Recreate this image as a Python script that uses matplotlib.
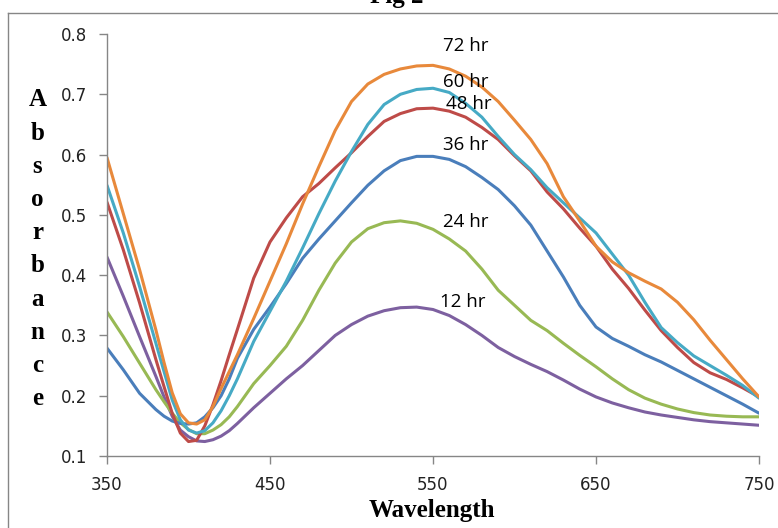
import numpy as np
import matplotlib
matplotlib.use("Agg")
import matplotlib.pyplot as plt
from matplotlib.lines import Line2D

# wavelength grid (nm) - finer around the absorption dip
wavelength = [350, 360, 370, 380, 385, 390, 395, 400, 405, 410, 415, 420, 425, 430,
              440, 450, 460, 470, 480, 490, 500, 510, 520, 530, 540, 550, 560, 570,
              580, 590, 600, 610, 620, 630, 640, 650, 660, 670, 680, 690, 700, 710,
              720, 730, 740, 750]

# absorbance, one list per incubation time
abs_12hr = [0.430, 0.365, 0.298, 0.232, 0.198, 0.166, 0.143, 0.132, 0.125, 0.124,
            0.127, 0.133, 0.142, 0.154,
            0.180, 0.204, 0.228, 0.250, 0.275, 0.300, 0.318, 0.332, 0.341, 0.346,
            0.347, 0.343, 0.333, 0.318, 0.300, 0.280, 0.265, 0.252, 0.240, 0.226,
            0.211, 0.198, 0.188, 0.180, 0.173, 0.168, 0.164, 0.160, 0.157, 0.155,
            0.153, 0.151]
abs_24hr = [0.339, 0.298, 0.254, 0.210, 0.190, 0.171, 0.155, 0.144, 0.137, 0.137,
            0.143, 0.152, 0.165, 0.182,
            0.220, 0.250, 0.282, 0.325, 0.375, 0.420, 0.455, 0.477, 0.487, 0.490,
            0.486, 0.476, 0.460, 0.440, 0.410, 0.375, 0.350, 0.325, 0.308, 0.287,
            0.267, 0.248, 0.228, 0.210, 0.196, 0.186, 0.178, 0.172, 0.168, 0.166,
            0.165, 0.165]
abs_36hr = [0.279, 0.243, 0.204, 0.177, 0.166, 0.158, 0.154, 0.153, 0.155, 0.165,
            0.180, 0.200, 0.228, 0.262,
            0.310, 0.347, 0.386, 0.428, 0.460, 0.490, 0.520, 0.549, 0.573, 0.590,
            0.597, 0.597, 0.592, 0.580, 0.562, 0.542, 0.515, 0.483, 0.440, 0.397,
            0.350, 0.314, 0.295, 0.282, 0.268, 0.256, 0.242, 0.228, 0.214, 0.200,
            0.186, 0.171]
abs_48hr = [0.521, 0.442, 0.354, 0.260, 0.215, 0.171, 0.138, 0.124, 0.126, 0.150,
            0.185, 0.225, 0.268, 0.310,
            0.395, 0.455, 0.495, 0.530, 0.552, 0.578, 0.603, 0.630, 0.655, 0.668,
            0.676, 0.677, 0.672, 0.662, 0.645, 0.625, 0.598, 0.573, 0.538, 0.510,
            0.478, 0.448, 0.410, 0.378, 0.342, 0.308, 0.280, 0.255, 0.238, 0.227,
            0.213, 0.198]
abs_60hr = [0.549, 0.470, 0.381, 0.287, 0.240, 0.193, 0.160, 0.143, 0.138, 0.142,
            0.155, 0.175, 0.200, 0.228,
            0.290, 0.340, 0.390, 0.445, 0.502, 0.556, 0.605, 0.650, 0.683, 0.700,
            0.708, 0.710, 0.703, 0.685, 0.662, 0.630, 0.600, 0.575, 0.545, 0.520,
            0.495, 0.470, 0.435, 0.400, 0.355, 0.313, 0.288, 0.266, 0.250, 0.234,
            0.217, 0.196]
abs_72hr = [0.595, 0.502, 0.409, 0.309, 0.255, 0.205, 0.170, 0.155, 0.153, 0.160,
            0.182, 0.212, 0.240, 0.268,
            0.328, 0.390, 0.452, 0.518, 0.580, 0.640, 0.688, 0.717, 0.733, 0.742,
            0.747, 0.748, 0.742, 0.730, 0.712, 0.688, 0.657, 0.625, 0.585, 0.530,
            0.490, 0.448, 0.422, 0.404, 0.390, 0.377, 0.355, 0.326, 0.292, 0.260,
            0.228, 0.198]

series_labels = ["12 hr", "24 hr", "36 hr", "48 hr", "60 hr", "72 hr"]
label_pos = [(554, 0.356), (556, 0.488), (556, 0.616), (558, 0.684), (556, 0.720), (556, 0.780)]

x_ticks = [350, 450, 550, 650, 750]
y_ticks = [0.1, 0.2, 0.3, 0.4, 0.5, 0.6, 0.7, 0.8]

colors = {
    "12 hr": "#7D60A0",
    "24 hr": "#98B954",
    "36 hr": "#4A7EBB",
    "48 hr": "#BE4B48",
    "60 hr": "#46AAC5",
    "72 hr": "#E8893B",
}

W, H = 778, 528
fig = plt.figure(figsize=(W / 100, H / 100), dpi=100)
ax = fig.add_axes([107 / W, (H - 456) / H, (759 - 107) / W, (456 - 34) / H])

data = [abs_12hr, abs_24hr, abs_36hr, abs_48hr, abs_60hr, abs_72hr]
for lab, vals in zip(series_labels, data):
    ax.plot(wavelength, vals, color=colors[lab], lw=2.2,
            solid_capstyle="round", solid_joinstyle="round")

for lab, (xp, yp) in zip(series_labels, label_pos):
    ax.text(xp, yp, lab, fontsize=13.5, family="Open Sans", ha="left", va="center", color="black")

ax.set_xlim(350, 750)
ax.set_ylim(0.1, 0.8)
ax.set_xticks(x_ticks)
ax.set_yticks(y_ticks)
ax.set_yticklabels([f"{v:.1f}" for v in y_ticks])

gray = "#868686"
for side in ["top", "right"]:
    ax.spines[side].set_visible(False)
for side in ["left", "bottom"]:
    ax.spines[side].set_color(gray)
    ax.spines[side].set_linewidth(1.0)
ax.tick_params(direction="out", length=5.5, width=1.0, color=gray,
               labelsize=12, labelcolor="#222222", pad=9)
ax.patch.set_visible(False)

# axis titles
fig.text(432 / W, 1 - 510 / H, "Wavelength", fontsize=18, fontweight="bold",
         family="Liberation Serif", ha="center", va="center")
for i, ch in enumerate("Absorbance"):
    fig.text(37.5 / W, 1 - (100 + i * 33.2) / H, ch, fontsize=18, fontweight="bold",
             family="Liberation Serif", ha="center", va="center")

# title, mostly above the visible area as in the source image
fig.text(397 / W, 1 - 3 / H, "Fig 2", fontsize=18, fontweight="bold",
         family="Liberation Serif", ha="center", va="baseline")

# outer frame (only top and left edges fall inside the image)
fig.add_artist(Line2D([8 / W, 1.01], [1 - 13 / H, 1 - 13 / H], transform=fig.transFigure,
                      color=gray, lw=1.0))
fig.add_artist(Line2D([8 / W, 8 / W], [1 - 13 / H, -0.01], transform=fig.transFigure,
                      color=gray, lw=1.0))

fig.savefig("out.png", dpi=100)
